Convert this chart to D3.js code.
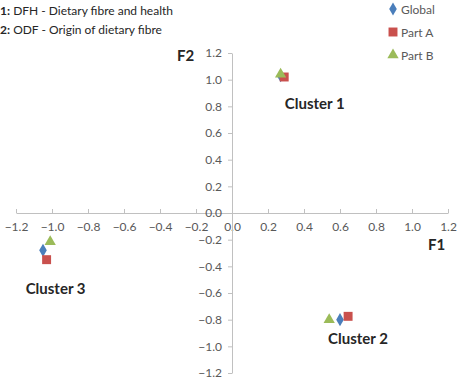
<!DOCTYPE html>
<html>
<head>
<meta charset="utf-8">
<script src="https://cdn.jsdelivr.net/npm/d3@7"></script>
<style>
  body { margin: 0; background: #fff; }
  svg { font-family: Lato, "Open Sans", sans-serif; }
</style>
</head>
<body>
<svg></svg>
<script>
const width = 462;
const height = 382;

// data
const seriesNames = ["Global", "Part A", "Part B"];
const clusterNames = ["Cluster 1", "Cluster 2", "Cluster 3"];
const globalF1 = [0.27, 0.60, -1.05];
const globalF2 = [1.03, -0.80, -0.28];
const partAF1 = [0.29, 0.645, -1.03];
const partAF2 = [1.02, -0.775, -0.35];
const partBF1 = [0.27, 0.54, -1.01];
const partBF2 = [1.04, -0.80, -0.215];
const tickValues = [-1.2, -1.0, -0.8, -0.6, -0.4, -0.2, 0, 0.2, 0.4, 0.6, 0.8, 1.0, 1.2];
const clusterLabelPos = [[0.46, 0.78], [0.70, -0.98], [-0.98, -0.605]];
const noteLines = ["DFH - Dietary fibre and health", "ODF - Origin of dietary fibre"];

const colors = ["#4a7ebb", "#c9504d", "#9bbb59"];
const symbols = [d3.symbolDiamond, d3.symbolSquare, d3.symbolTriangle];
const symbolSizes = [50, 80, 55];

const svg = d3.select("svg").attr("width", width).attr("height", height);

// scales
const x = d3.scaleLinear().domain([-1.2, 1.2]).range([16, 448]);
const y = d3.scaleLinear().domain([-1.2, 1.2]).range([373, 53]);

// axes
const xAxis = d3.axisBottom(x)
  .tickValues(tickValues)
  .tickSizeInner(-4)
  .tickSizeOuter(0)
  .tickPadding(9)
  .tickFormat(d3.format(".1f"));

const yAxis = d3.axisLeft(y)
  .tickValues(tickValues)
  .tickSizeInner(4)
  .tickSizeOuter(0)
  .tickPadding(6)
  .tickFormat(d3.format(".1f"));

const gx = svg.append("g").attr("transform", `translate(0,${y(0)})`).call(xAxis);
const gy = svg.append("g").attr("transform", `translate(${x(0)},0)`).call(yAxis);

[gx, gy].forEach((g) => {
  g.select(".domain").attr("stroke", "#c0c0c0");
  g.selectAll(".tick line").attr("stroke", "#c0c0c0");
  g.selectAll(".tick text")
    .attr("fill", "#595959")
    .style("font-size", "12px")
    .style("font-family", "Lato, sans-serif");
});

// axis titles
svg.append("text").attr("x", 177).attr("y", 61)
  .style("font-size", "15px").style("font-weight", "bold").attr("fill", "#262626")
  .text("F2");
svg.append("text").attr("x", 428).attr("y", 250)
  .style("font-size", "15px").style("font-weight", "bold").attr("fill", "#262626")
  .text("F1");

// points
const series = [
  { f1: globalF1, f2: globalF2 },
  { f1: partAF1, f2: partAF2 },
  { f1: partBF1, f2: partBF2 },
];
series.forEach((s, k) => {
  svg.append("g")
    .selectAll("path")
    .data(s.f1.map((v, i) => [v, s.f2[i]]))
    .enter()
    .append("path")
    .attr("transform", (d) => `translate(${x(d[0])},${y(d[1])})`)
    .attr("d", d3.symbol().type(symbols[k]).size(symbolSizes[k]))
    .attr("fill", colors[k]);
});

// cluster labels
svg.append("g")
  .selectAll("text")
  .data(clusterNames)
  .enter()
  .append("text")
  .attr("x", (d, i) => x(clusterLabelPos[i][0]))
  .attr("y", (d, i) => y(clusterLabelPos[i][1]))
  .attr("text-anchor", "middle")
  .style("font-size", "15px")
  .style("font-weight", "bold")
  .attr("fill", "#262626")
  .text((d) => d);

// note top-left
const notes = svg.append("g");
noteLines.forEach((line, i) => {
  const t = notes.append("text")
    .attr("x", 0)
    .attr("y", 15 + i * 19)
    .style("font-size", "12px")
    .attr("fill", "#262626");
  t.append("tspan").style("font-weight", "bold").text(i + 1 + ":");
  t.append("tspan").text(" " + line);
});

// legend
const legend = svg.append("g").attr("transform", "translate(393,0)");
seriesNames.forEach((name, i) => {
  const row = legend.append("g").attr("transform", `translate(0,${9 + i * 23})`);
  row.append("path")
    .attr("d", d3.symbol().type(symbols[i]).size(symbolSizes[i]))
    .attr("fill", colors[i]);
  row.append("text")
    .attr("x", 8)
    .attr("y", 4.5)
    .style("font-size", "12px")
    .attr("fill", "#595959")
    .text(name);
});
</script>
</body>
</html>
